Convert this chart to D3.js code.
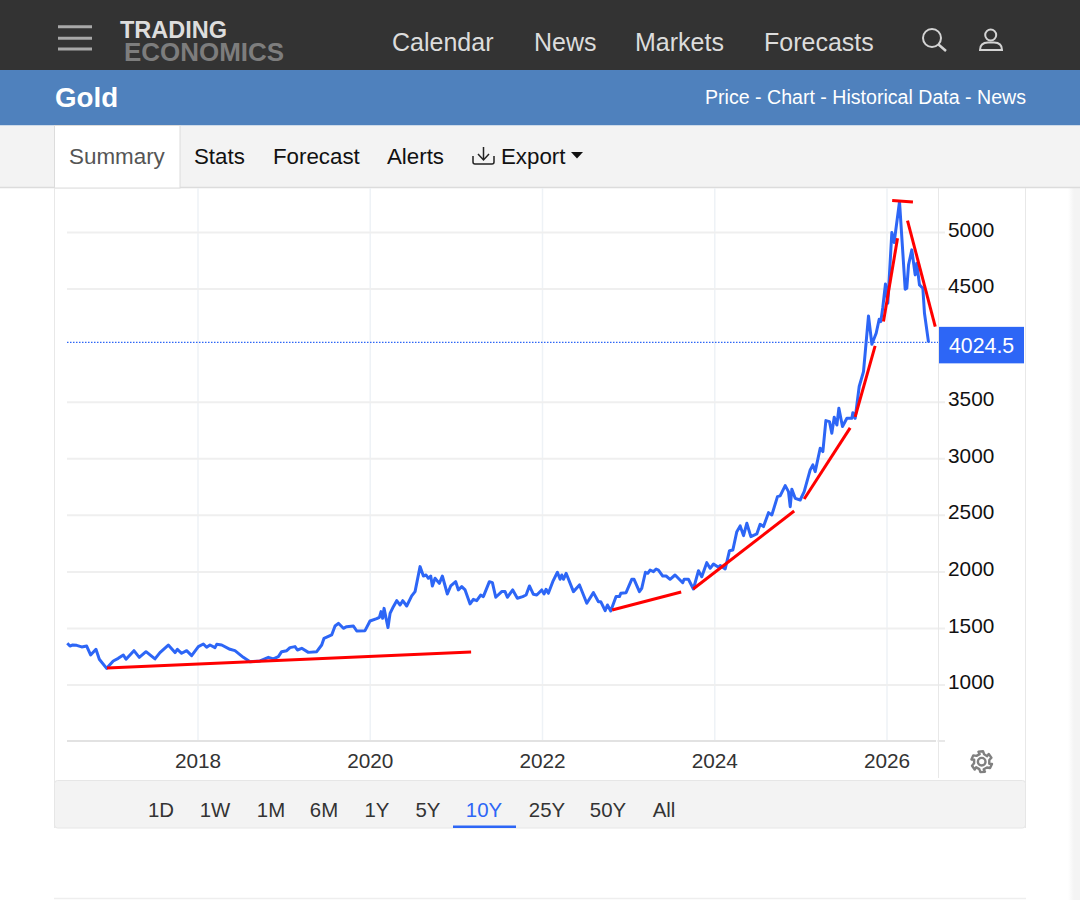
<!DOCTYPE html>
<html>
<head>
<meta charset="utf-8">
<title>Gold</title>
<script src="https://cdn.jsdelivr.net/npm/d3@7"></script>
<style>
  html, body { margin: 0; padding: 0; background: #fff; overflow: hidden; }
  svg { display: block; font-family: "Liberation Sans", Arial, sans-serif; }
</style>
</head>
<body>
<div id="chart"></div>
<script>
// decimal years and gold price
var goldYears = [
  2016.488,2016.519,2016.550,2016.597,2016.655,2016.713,2016.759,2016.821,2016.860,2016.945,
  2017.022,2017.080,2017.139,2017.170,2017.262,2017.324,2017.402,2017.506,2017.564,2017.661,
  2017.739,2017.766,2017.816,2017.874,2017.932,2018.010,2018.068,2018.106,2018.145,2018.203,
  2018.223,2018.281,2018.377,2018.435,2018.532,2018.610,2018.726,2018.823,2018.881,2018.939,
  2018.977,2019.036,2019.074,2019.132,2019.160,2019.210,2019.287,2019.384,2019.442,2019.469,
  2019.558,2019.597,2019.636,2019.694,2019.732,2019.810,2019.849,2019.945,2020.003,2020.081,
  2020.112,2020.131,2020.150,2020.166,2020.212,2020.236,2020.274,2020.313,2020.352,2020.383,
  2020.429,2020.487,2020.526,2020.584,2020.623,2020.654,2020.681,2020.708,2020.727,2020.758,
  2020.808,2020.843,2020.901,2020.940,2020.998,2021.029,2021.068,2021.107,2021.165,2021.203,
  2021.242,2021.288,2021.319,2021.389,2021.424,2021.463,2021.532,2021.571,2021.598,2021.660,
  2021.714,2021.776,2021.815,2021.854,2021.900,2021.939,2021.997,2022.024,2022.047,2022.074,
  2022.125,2022.179,2022.210,2022.229,2022.249,2022.280,2022.365,2022.435,2022.520,2022.597,
  2022.655,2022.682,2022.733,2022.760,2022.798,2022.860,2022.899,2022.915,2022.976,2023.042,
  2023.069,2023.131,2023.158,2023.201,2023.228,2023.255,2023.294,2023.325,2023.352,2023.402,
  2023.441,2023.487,2023.545,2023.634,2023.650,2023.700,2023.758,2023.817,2023.855,2023.913,
  2023.952,2023.991,2024.049,2024.069,2024.127,2024.177,2024.216,2024.262,2024.301,2024.340,
  2024.378,2024.425,2024.494,2024.533,2024.572,2024.630,2024.669,2024.734,2024.765,2024.824,
  2024.862,2024.882,2024.901,2024.940,2024.998,2025.044,2025.114,2025.145,2025.172,2025.230,
  2025.261,2025.296,2025.338,2025.365,2025.393,2025.424,2025.447,2025.489,2025.540,2025.598,
  2025.609,2025.636,2025.683,2025.733,2025.791,2025.830,2025.880,2025.915,2025.934,2025.957,
  2025.988,2026.015,2026.062,2026.089,2026.151,2026.217,2026.236,2026.256,2026.294,2026.333,
  2026.352,2026.383,2026.422,2026.441,2026.488
];
var goldPrices = [
  1364,1340,1349,1346,1332,1340,1261,1311,1223,1143,
  1208,1231,1261,1223,1299,1240,1290,1226,1282,1349,
  1282,1311,1276,1299,1255,1335,1358,1329,1349,1326,
  1355,1349,1311,1299,1240,1202,1208,1240,1226,1246,
  1290,1299,1326,1335,1305,1320,1284,1290,1349,1408,
  1438,1517,1541,1497,1511,1517,1473,1476,1561,1582,
  1594,1644,1585,1673,1503,1629,1688,1741,1703,1741,
  1694,1783,1821,2042,1959,1968,1939,1959,1871,1939,
  1894,1959,1800,1871,1909,1836,1865,1836,1712,1753,
  1741,1791,1777,1909,1900,1771,1821,1821,1771,1836,
  1762,1777,1791,1871,1797,1791,1836,1800,1841,1806,
  1909,1992,1930,1968,1930,1983,1821,1880,1718,1812,
  1732,1732,1653,1703,1650,1777,1777,1806,1812,1930,
  1930,1821,1850,1992,1983,2012,1998,2021,2012,1959,
  1959,1930,1968,1900,1930,1930,1844,2006,1953,2077,
  2027,2065,2036,2051,2021,2183,2189,2351,2402,2316,
  2425,2307,2331,2416,2396,2519,2499,2661,2667,2758,
  2705,2572,2726,2646,2631,2705,2897,2941,2882,3088,
  3059,3333,3324,3221,3362,3294,3442,3280,3353,3353,
  3403,3353,3634,3766,4258,4008,4105,4229,4208,4335,
  4541,4370,4995,4907,5269,4494,4503,4709,4842,4621,
  4724,4532,4503,4282,4024.5
];
// hand drawn red trend lines: [year, price, year, price]
var trendLines = [
  [2016.949,1146,2021.177,1287],
  [2022.814,1659,2023.616,1818],
  [2023.755,1844,2024.928,2534],
  [2025.044,2640,2025.578,3268],
  [2025.636,3365,2025.868,3993],
  [2025.965,4208,2026.128,4945],
  [2026.066,5278,2026.307,5266],
  [2026.244,5101,2026.566,4163]
];
var yearTicks = [2018,2020,2022,2024,2026];
var priceTicks = [1000,1500,2000,2500,3000,3500,4000,4500,5000];
var lastPrice = 4024.5;
var navLabels = ["Calendar","News","Markets","Forecasts"];
var navX = [392,534,635,764];
var tabLabels = ["Stats","Forecast","Alerts"];
var tabX = [194,273,387];
var rangeLabels = ["1D","1W","1M","6M","1Y","5Y","10Y","25Y","50Y","All"];
var rangeX = [161,215,271,324,377,428,484,547,608,664];

var blue = "#2d66f6";
var gridColor = "#efefef";

var svg = d3.select("#chart").append("svg").attr("width",1080).attr("height",900);

function rect(x,y,w,h,fill){
  return svg.append("rect").attr("x",x).attr("y",y).attr("width",w).attr("height",h).attr("fill",fill);
}
function label(x,y,txt,size,fill){
  return svg.append("text").attr("x",x).attr("y",y).attr("font-size",size).attr("fill",fill).text(txt);
}
function hline(x1,x2,y,color,w){
  return svg.append("line").attr("x1",x1).attr("x2",x2).attr("y1",y).attr("y2",y).attr("stroke",color).attr("stroke-width",w);
}
function vline(x,y1,y2,color,w){
  return svg.append("line").attr("x1",x).attr("x2",x).attr("y1",y1).attr("y2",y2).attr("stroke",color).attr("stroke-width",w);
}

// soft scrollbar shadow down the right edge
var grad = svg.append("defs").append("linearGradient").attr("id","edge");
grad.append("stop").attr("offset","0").attr("stop-color","#ffffff");
grad.append("stop").attr("offset","0.5").attr("stop-color","#f4f4f4");
grad.append("stop").attr("offset","1").attr("stop-color","#f4f4f4");
rect(1068,188,12,712,"url(#edge)");

// page header
rect(0,0,1080,70,"#333333");
rect(0,70,1080,55.5,"#4f81bd");
rect(0,125.5,1080,62,"#f3f3f3");
hline(0,1080,187.5,"#dcdcdc",1.5);

[26.7,38.3,49].forEach(function(y){ hline(58,92,y,"#a9a9a9",3); });
label(120,38.3,"TRADING",23.5,"#dddddd").attr("font-weight","bold").attr("textLength",107).attr("lengthAdjust","spacingAndGlyphs");
label(124,60.5,"ECONOMICS",25.5,"#7d7d7d").attr("font-weight","bold").attr("textLength",160).attr("lengthAdjust","spacingAndGlyphs");
navLabels.forEach(function(d,i){ label(navX[i],51,d,25,"#dcdcdc"); });

// search and user icons
svg.append("circle").attr("cx",932).attr("cy",38).attr("r",9).attr("fill","none").attr("stroke","#d4d4d4").attr("stroke-width",2);
svg.append("line").attr("x1",938.5).attr("y1",44.5).attr("x2",946).attr("y2",51).attr("stroke","#d4d4d4").attr("stroke-width",2.5);
svg.append("circle").attr("cx",990.7).attr("cy",35).attr("r",5.5).attr("fill","none").attr("stroke","#d4d4d4").attr("stroke-width",2);
svg.append("path").attr("d","M980 50 q0 -7.5 8 -7.5 h6 q8 0 8 7.5 z").attr("fill","none").attr("stroke","#d4d4d4").attr("stroke-width",2);

label(55,107,"Gold",27.7,"#ffffff").attr("font-weight","bold");
label(1026,104,"Price - Chart - Historical Data - News",20,"#ffffff").attr("text-anchor","end").attr("textLength",321).attr("lengthAdjust","spacingAndGlyphs");

// tabs
rect(54.5,125.5,125.5,62.5,"#ffffff").attr("stroke","#dcdcdc").attr("stroke-width",1);
label(69,164,"Summary",22.4,"#555555");
tabLabels.forEach(function(d,i){ label(tabX[i],164,d,22.3,"#111111"); });
svg.append("path").attr("d","M473 156 v6 q0 2 2 2 h17 q2 0 2 -2 v-6 M483.5 147 v13 M478 154 l5.5 6 l5.5 -6")
  .attr("fill","none").attr("stroke","#222222").attr("stroke-width",1.5);
label(501,164,"Export",22.3,"#111111");
svg.append("path").attr("d","M571 152 h12 l-6 6.5 z").attr("fill","#111111");

// chart frame
vline(54.5,188,828,"#e8e8e8",1);
vline(1025.5,188,828,"#e8e8e8",1);

var x = d3.scaleLinear().domain([2018,2026]).range([197.5,886.5]);
var y = d3.scaleLinear().domain([1000,5000]).range([684.5,232]);

// vertical grid, then the axes
var xAxis = d3.axisBottom(x).tickValues(yearTicks).tickFormat(d3.format("d")).tickSize(0).tickPadding(12);
var gx = svg.append("g").attr("transform","translate(0,741)").call(xAxis);
gx.select(".domain").remove();
gx.selectAll("text").attr("font-size",20.8).attr("font-family","Liberation Sans").attr("fill","#333333");
gx.selectAll(".tick").append("line").attr("y1",-553).attr("y2",0).attr("stroke","#eef2f6").attr("stroke-width",1.5);

var yAxis = d3.axisRight(y).tickValues(priceTicks).tickFormat(d3.format("d")).tickSize(0).tickPadding(0);
var gy = svg.append("g").attr("transform","translate(948,0)").call(yAxis);
gy.select(".domain").remove();
gy.selectAll("text").attr("font-size",20.8).attr("font-family","Liberation Sans").attr("fill","#111111").attr("dy","0.2em");
gy.selectAll(".tick").filter(function(d){ return d === 4000; }).remove();
gy.selectAll(".tick").append("line").attr("x1",-881).attr("x2",-3).attr("stroke",gridColor).attr("stroke-width",2);

vline(938.5,188,778,"#e8e8e8",1);
hline(67,936,741,"#e2e2e2",2);
hline(937.5,945,741,"#e8e8e8",2);

// dotted last price
hline(67,938,y(lastPrice),blue,1.3).attr("stroke-dasharray","1.5,1.5");

// price line
var line = d3.line().x(function(d){ return x(d[0]); }).y(function(d){ return y(d[1]); });
svg.append("path")
  .datum(d3.zip(goldYears,goldPrices))
  .attr("d",line)
  .attr("fill","none")
  .attr("stroke",blue)
  .attr("stroke-width",3)
  .attr("stroke-linejoin","round");

// trend lines
svg.selectAll(".trend").data(trendLines).enter().append("line")
  .attr("class","trend")
  .attr("x1",function(d){ return x(d[0]); })
  .attr("y1",function(d){ return y(d[1]); })
  .attr("x2",function(d){ return x(d[2]); })
  .attr("y2",function(d){ return y(d[3]); })
  .attr("stroke","#ff0000")
  .attr("stroke-width",3);

// last price flag
rect(939,y(lastPrice)-15.5,85,36.5,blue);
label(949,y(lastPrice)+11,"4024.5",21.3,"#ffffff");

// gear, six teeth
var gearPts = [];
d3.range(6).forEach(function(i){
  [[-0.3,10.5],[0.12,10.5],[0.3,7.8],[0.75,7.8]].forEach(function(p){
    var a = (i + p[0]) * Math.PI / 3 - Math.PI / 2;
    gearPts.push([981.7 + p[1] * Math.cos(a), 761.7 + p[1] * Math.sin(a)]);
  });
});
svg.append("path").attr("d",d3.line().curve(d3.curveLinearClosed)(gearPts)).attr("fill","none").attr("stroke","#808080").attr("stroke-width",2.4).attr("stroke-linejoin","round");
svg.append("circle").attr("cx",981.7).attr("cy",761.7).attr("r",3.8).attr("fill","none").attr("stroke","#808080").attr("stroke-width",2.4);

// range bar
svg.append("rect").attr("x",54.5).attr("y",780.5).attr("width",971).attr("height",47.5).attr("rx",3)
  .attr("fill","#f3f3f3").attr("stroke","#e6e6e6").attr("stroke-width",1);
rangeLabels.forEach(function(d,i){
  label(rangeX[i],817,d,20.4,d === "10Y" ? blue : "#333333").attr("text-anchor","middle");
});
rect(453,825.5,63,2.5,blue);

// start of next card
hline(54,1026,898.5,"#eeeeee",1.5);
</script>
</body>
</html>
